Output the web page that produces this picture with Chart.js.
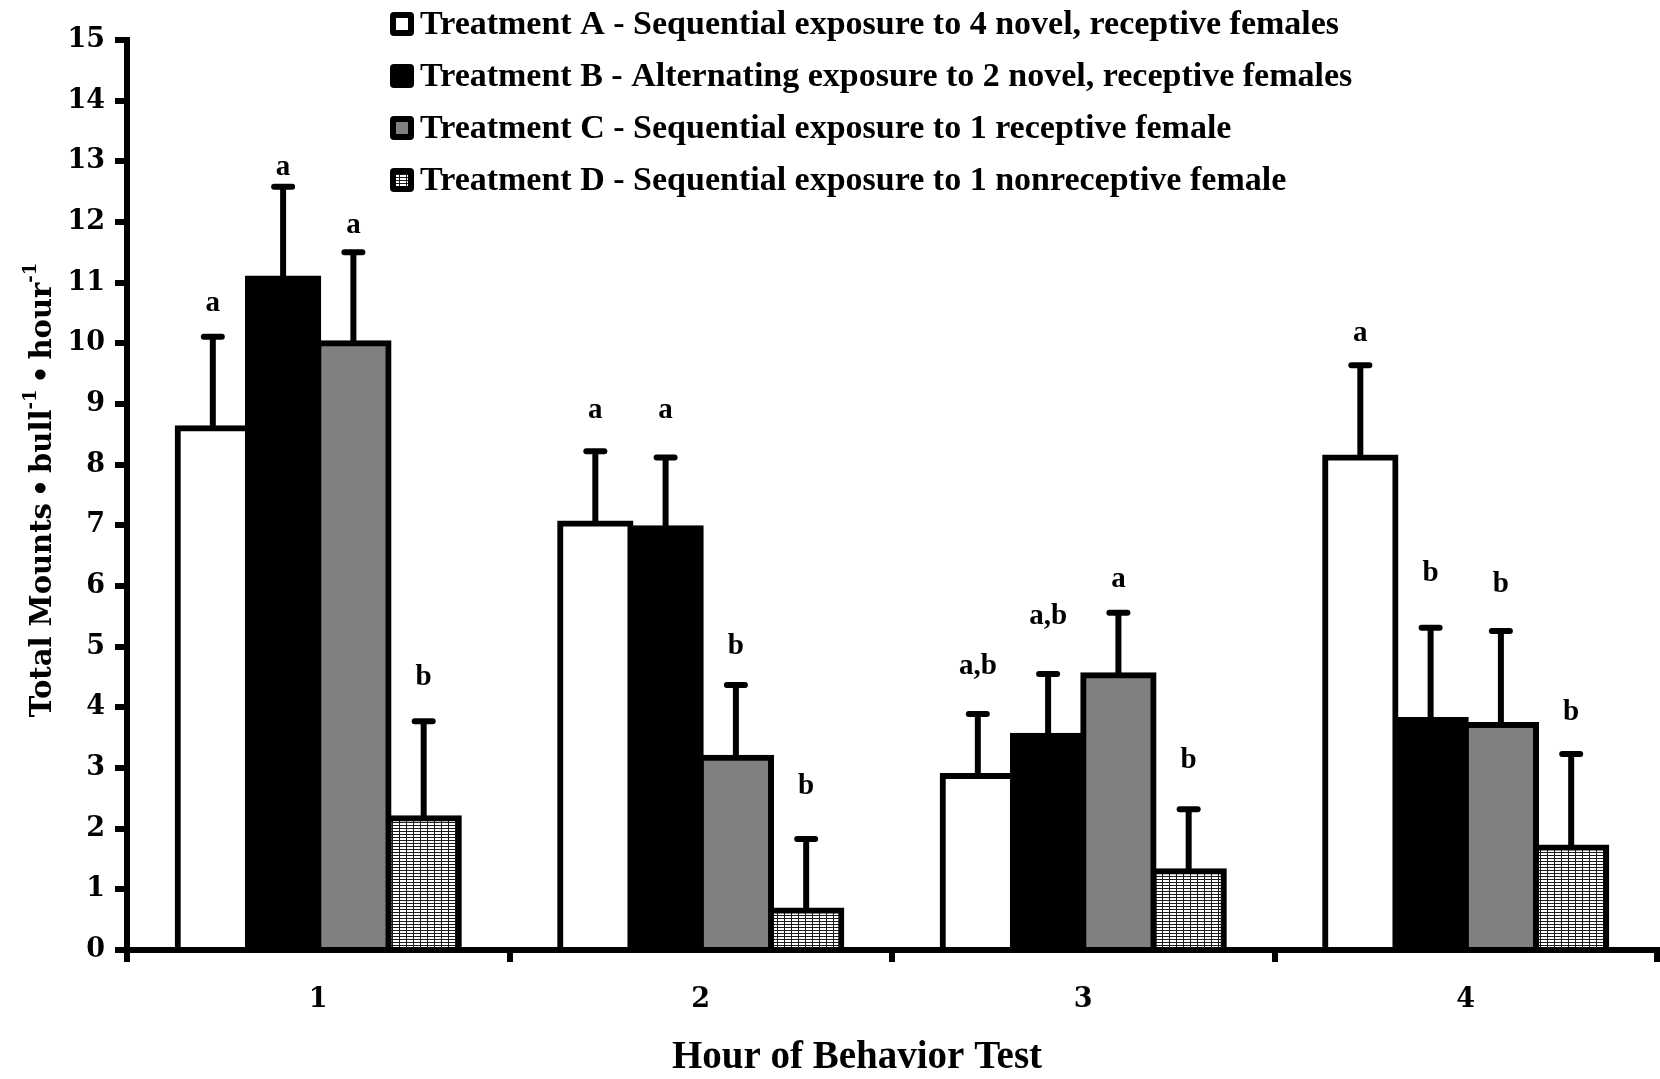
<!DOCTYPE html>
<html>
<head>
<meta charset="utf-8">
<script src="https://cdn.jsdelivr.net/npm/chart.js@4.4.0/dist/chart.umd.min.js"></script>
<style>
  html, body { margin: 0; padding: 0; background: #fff; }
  #wrap { width: 1660px; height: 1079px; }
</style>
</head>
<body>
<div id="wrap"><canvas id="mountsChart" width="1660" height="1079"></canvas></div>
<script>
// ---- DATA ----
const hours = ["1", "2", "3", "4"];
const treatmentNames = [
  "Treatment A - Sequential exposure to 4 novel, receptive females",
  "Treatment B - Alternating exposure to 2 novel, receptive females",
  "Treatment C - Sequential exposure to 1 receptive female",
  "Treatment D - Sequential exposure to 1 nonreceptive female",
];
const mountsA = [8.6, 7.03, 2.87, 8.12];
const mountsB = [11.07, 6.95, 3.53, 3.79];
const mountsC = [10.0, 3.17, 4.53, 3.71];
const mountsD = [2.17, 0.65, 1.3, 1.69];

// upper error (SE) of each bar
const errA = [1.51, 1.19, 1.02, 1.52];
const errB = [1.51, 1.17, 1.02, 1.52];
const errC = [1.5, 1.2, 1.03, 1.55];
const errD = [1.6, 1.18, 1.02, 1.54];

// significance letters and the value they sit at
const lettersA = ["a", "a", "a,b", "a"];
const lettersB = ["a", "a", "a,b", "b"];
const lettersC = ["a", "b", "a", "b"];
const lettersD = ["b", "b", "b", "b"];
const letterYA = [10.65, 8.9, 4.68, 10.17];
const letterYB = [12.89, 8.9, 5.5, 6.21];
const letterYC = [11.95, 5.0, 6.1, 6.02];
const letterYD = [4.49, 2.7, 3.13, 3.91];

const yTicks = [0, 1, 2, 3, 4, 5, 6, 7, 8, 9, 10, 11, 12, 13, 14, 15];

const errors = [errA, errB, errC, errD];
const letters = [lettersA, lettersB, lettersC, lettersD];
const letterYs = [letterYA, letterYB, letterYC, letterYD];

const SERIF = '"DejaVu Serif", "Liberation Serif", serif';
const TIMES = '"Liberation Serif", "DejaVu Serif", serif';

const canvas = document.getElementById("mountsChart");
const ctx = canvas.getContext("2d");

// fine grid fill used for treatment D
function makeHatch() {
  const tile = document.createElement("canvas");
  tile.width = 7;
  tile.height = 3;
  const g = tile.getContext("2d");
  g.fillStyle = "#fff";
  g.fillRect(0, 0, 7, 3);
  g.fillStyle = "#1a1a1a";
  g.fillRect(0, 0, 7, 1);
  g.fillRect(0, 0, 1, 3);
  return ctx.createPattern(tile, "repeat");
}
const hatch = makeHatch();
const fills = ["#ffffff", "#000000", "#808080", hatch];

// font size that makes a text span the given width
function fitSize(c, text, width, family) {
  c.font = "bold 100px " + family;
  return Math.round((100 * width) / c.measureText(text).width);
}

// ---- error bars, letters, legend, axis titles ----
const overlayPlugin = {
  id: "overlay",
  afterDatasetsDraw(chart) {
    const c = chart.ctx;
    const y = chart.scales.y;
    c.save();
    c.strokeStyle = "#000";
    c.fillStyle = "#000";
    c.lineWidth = 6;
    chart.data.datasets.forEach((ds, i) => {
      const meta = chart.getDatasetMeta(i);
      meta.data.forEach((bar, j) => {
        const top = y.getPixelForValue(ds.data[j] + errors[i][j]);
        c.lineCap = "butt";
        c.beginPath();
        c.moveTo(bar.x, bar.y);
        c.lineTo(bar.x, top);
        c.stroke();
        c.lineCap = "round";
        c.beginPath();
        c.moveTo(bar.x - 9, top);
        c.lineTo(bar.x + 9, top);
        c.stroke();

        c.font = "bold 29px " + TIMES;
        c.textAlign = "center";
        c.textBaseline = "middle";
        c.fillText(letters[i][j], bar.x, y.getPixelForValue(letterYs[i][j]));
      });
    });
    c.restore();
  },
  afterDraw(chart) {
    const c = chart.ctx;
    const area = chart.chartArea;
    c.save();

    // legend
    const legendSize = fitSize(c, treatmentNames[0], 925, TIMES);
    c.font = "bold " + legendSize + "px " + TIMES;
    c.textAlign = "left";
    c.textBaseline = "middle";
    treatmentNames.forEach((name, i) => {
      const cy = 24 + i * 52;
      c.fillStyle = "#000";
      c.beginPath();
      c.roundRect(390, cy - 12, 24, 24, 4);
      c.fill();
      if (i !== 1) {
        c.fillStyle = fills[i];
        c.fillRect(396, cy - 6, 12, 12);
      }
      c.fillStyle = "#000";
      c.fillText(name, 420, cy + 1);
    });

    // x title
    const titleSize = fitSize(c, "Hour of Behavior Test", 372, TIMES);
    c.font = "bold " + titleSize + "px " + TIMES;
    c.textAlign = "center";
    c.fillText("Hour of Behavior Test", 857, 1058);

    // y title with superscripts
    const parts = [
      ["Total Mounts", false],
      ["\u2009\u2022\u2009", false],
      ["bull", false],
      ["-1", true],
      ["\u2009\u2022\u2009", false],
      ["hour", false],
      ["-1", true],
    ];
    const bigFont = "bold 29px " + SERIF;
    const smallFont = "bold 18px " + SERIF;
    let total = 0;
    parts.forEach(([t, sup]) => {
      c.font = sup ? smallFont : bigFont;
      total += c.measureText(t).width;
    });
    c.translate(43, (area.top + area.bottom) / 2 - 5);
    c.rotate(-Math.PI / 2);
    c.textAlign = "left";
    c.textBaseline = "middle";
    let x = -total / 2;
    parts.forEach(([t, sup]) => {
      c.font = sup ? smallFont : bigFont;
      c.fillText(t, x, sup ? -12 : 0);
      x += c.measureText(t).width;
    });
    c.restore();
  },
};

new Chart(ctx, {
  type: "bar",
  data: {
    labels: hours,
    datasets: [mountsA, mountsB, mountsC, mountsD].map((vals, i) => ({
      label: treatmentNames[i],
      data: vals,
      backgroundColor: fills[i],
      borderColor: "#000",
      borderWidth: 6,
      inflateAmount: 3,
      categoryPercentage: 0.735,
      barPercentage: 1.0,
    })),
  },
  options: {
    responsive: false,
    animation: false,
    devicePixelRatio: 1,
    layout: { padding: { top: 40, right: 3, left: 0, bottom: 0 } },
    plugins: {
      legend: { display: false },
      tooltip: { enabled: false },
    },
    scales: {
      x: {
        grid: {
          offset: true,
          drawOnChartArea: false,
          tickLength: 12,
          lineWidth: 6,
          color: "#000",
        },
        border: { display: true, width: 6, color: "#000" },
        ticks: {
          color: "#000",
          padding: 22,
          font: { family: SERIF, size: 27, weight: "bold" },
        },
        afterFit: (scale) => {
          scale.height = 129;
        },
      },
      y: {
        min: 0,
        max: 15,
        afterBuildTicks: (scale) => {
          scale.ticks = yTicks.map((v) => ({ value: v }));
        },
        grid: {
          drawOnChartArea: false,
          tickLength: 12,
          lineWidth: 6,
          color: "#000",
        },
        border: { display: true, width: 6, color: "#000" },
        ticks: {
          color: "#000",
          padding: 10,
          font: { family: SERIF, size: 27, weight: "bold" },
        },
        afterFit: (scale) => {
          scale.width = 127;
        },
      },
    },
  },
  plugins: [overlayPlugin],
});
</script>
</body>
</html>
